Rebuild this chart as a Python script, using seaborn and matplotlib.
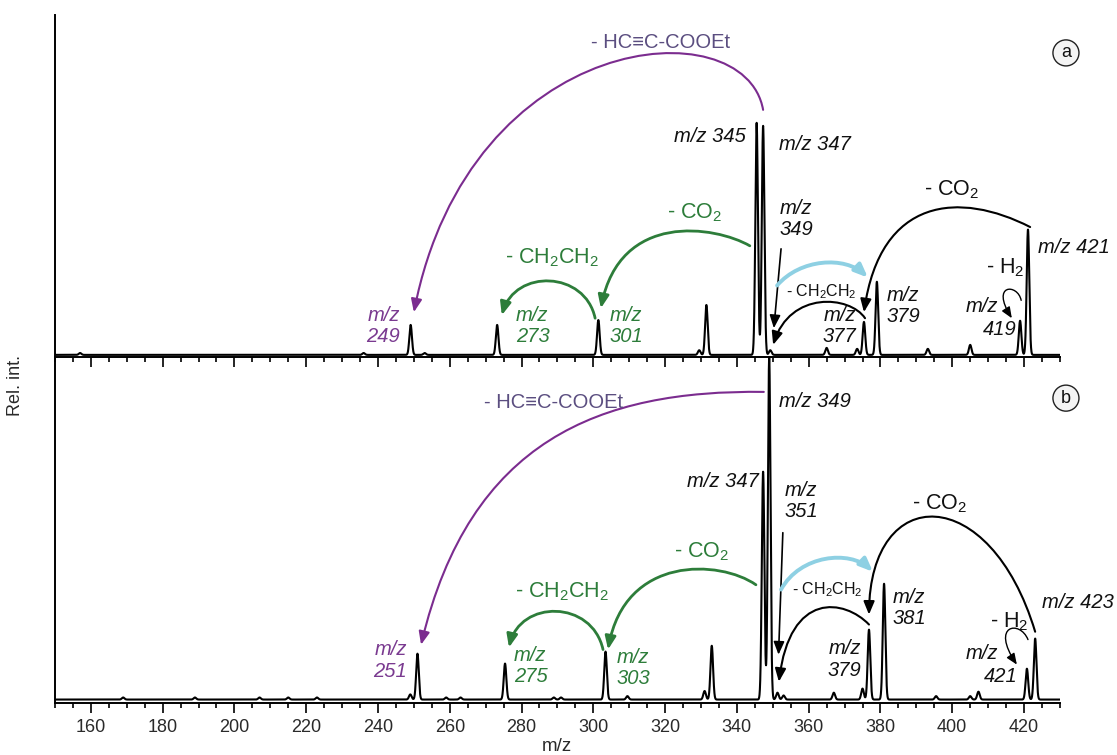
import numpy as np
import pandas as pd
import matplotlib
matplotlib.use("Agg")
import matplotlib.pyplot as plt
import seaborn as sns
from matplotlib.patches import FancyArrowPatch
from matplotlib.path import Path
from matplotlib.ticker import MultipleLocator

sns.set_theme(style="white")
plt.rcParams["font.family"] = ["Liberation Sans", "DejaVu Sans"]
plt.rcParams["mathtext.fontset"] = "custom"
plt.rcParams["mathtext.rm"] = "Liberation Sans"
plt.rcParams["mathtext.it"] = "Liberation Sans:italic"

# ---------------- data ----------------
# panel (a): peak positions (m/z) and relative intensities (base peak = 100)
mz_a = [157.0, 236.0, 249.1, 253.0, 273.2, 301.4, 329.5, 331.5, 345.5, 347.3,
        349.3, 365.0, 373.5, 375.4, 379.0, 393.2, 405.0, 418.9, 421.1]
int_a = [0.8, 0.8, 12.9, 0.8, 12.9, 15.0, 2.0, 21.5, 100.0, 98.7,
         2.0, 3.0, 2.6, 14.2, 31.5, 2.6, 4.3, 14.7, 54.0]

# panel (b)
mz_b = [169.0, 189.0, 207.0, 215.0, 223.0, 249.0, 251.0, 259.0, 263.0, 275.4,
        289.0, 291.0, 303.4, 309.5, 331.0, 333.0, 347.3, 349.0, 351.3, 353.0,
        367.0, 375.0, 376.8, 381.0, 395.5, 405.0, 407.3, 420.8, 423.1]
int_b = [0.6, 0.6, 0.6, 0.6, 0.6, 1.5, 13.4, 0.6, 0.6, 10.5,
         0.6, 0.6, 14.0, 1.0, 2.5, 15.7, 66.5, 100.0, 2.0, 1.2,
         2.0, 3.2, 20.4, 33.8, 1.0, 1.0, 2.3, 9.0, 17.8]

x_ticks = [160, 180, 200, 220, 240, 260, 280, 300, 320, 340, 360, 380, 400, 420]

# ---------------- styling ----------------
PURPLE = "#7B2C8F"
PURPLE_TXT = "#5B4E80"
PURPLE_MZ = "#7A3A90"
GREEN = "#2D7D3A"
CYAN = "#8ED0E3"
BLACK = "#111111"
SIGMA = 0.36

grid = np.arange(150.0, 430.0001, 0.02)


def profile(mzs, ints):
    y = np.zeros_like(grid)
    for m, h in zip(mzs, ints):
        y += h * np.exp(-0.5 * ((grid - m) / SIGMA) ** 2)
    return pd.DataFrame({"mz": grid, "int": y})


fig = plt.figure(figsize=(11.17, 7.55), dpi=100)
ax_a = fig.add_axes([0.0492, 0.5272, 0.8997, 0.4530])
ax_b = fig.add_axes([0.0492, 0.0689, 0.8997, 0.4583])

for ax, mzs, ints, ylim in ((ax_a, mz_a, int_a, (-0.9, 146.5)),
                            (ax_b, mz_b, int_b, (-1.0, 100.0))):
    sns.lineplot(data=profile(mzs, ints), x="mz", y="int", ax=ax,
                 color="black", lw=1.5, estimator=None, sort=False)
    ax.set_xlim(150, 430)
    ax.set_ylim(*ylim)
    ax.set_xlabel("")
    ax.set_ylabel("")
    ax.set_yticks([])
    ax.set_xticks(x_ticks)
    ax.xaxis.set_minor_locator(MultipleLocator(5))
    ax.tick_params(axis="x", which="major", direction="out", length=7,
                   width=1.2, color="black", labelsize=13,
                   labelcolor="#2a2a2a", bottom=True, pad=4.5)
    ax.tick_params(axis="x", which="minor", direction="out", length=3.6,
                   width=1.2, color="black", bottom=True)
    for s in ("top", "right"):
        ax.spines[s].set_visible(False)
    for s in ("left", "bottom"):
        ax.spines[s].set_color("black")
        ax.spines[s].set_linewidth(1.4)
    ax.patch.set_alpha(0)

ax_a.tick_params(axis="x", labelbottom=False)


def bez(ax, pts, color, lw, ms=13, hl=0.6, hw=0.25):
    path = Path(pts, [Path.MOVETO, Path.CURVE4, Path.CURVE4, Path.CURVE4])
    arr = FancyArrowPatch(path=path,
                          arrowstyle=f"-|>,head_length={hl},head_width={hw}",
                          mutation_scale=ms, color=color, lw=lw,
                          clip_on=False, zorder=5)
    ax.add_patch(arr)


def straight(ax, start, end):
    ax.annotate("", xy=end, xytext=start,
                arrowprops=dict(arrowstyle="-|>,head_length=0.6,head_width=0.25",
                                mutation_scale=13, color="black", lw=1.2,
                                shrinkA=0, shrinkB=0), annotation_clip=False)


def lab(ax, x, y, s, color=BLACK, ha="left", size=14.5, italic=True):
    ax.text(x, y, s, ha=ha, va="center", multialignment=ha if ha != "center" else "center",
            color=color, fontsize=size, style="italic" if italic else "normal",
            linespacing=1.15, clip_on=False, zorder=6)


# ---------------- panel (a) annotations ----------------
bez(ax_a, [(347.3, 105.6), (342.3, 150.0), (265.6, 141.0), (250.0, 18.4)], PURPLE, 1.5)
lab(ax_a, 318.6, 134.5, "- HC\u2261C-COOEt", PURPLE_TXT, "center", 14.5, False)
bez(ax_a, [(343.6, 47.0), (333.9, 55.6), (307.4, 62.0), (302.1, 20.1)], GREEN, 2.0)
lab(ax_a, 328.3, 61.1, "- CO$_2$", GREEN, "center", 15.5, False)
bez(ax_a, [(300.5, 15.8), (297.7, 36.3), (278.2, 37.2), (274.5, 17.1)], GREEN, 2.0)
lab(ax_a, 288.5, 41.9, "- CH$_2$CH$_2$", GREEN, "center", 15.5, False)

lab(ax_a, 246.1, 12.4, "m/z\n249", PURPLE_MZ, "right")
lab(ax_a, 278.4, 12.4, "m/z\n273", GREEN, "left")
lab(ax_a, 304.6, 12.4, "m/z\n301", GREEN, "left")
lab(ax_a, 342.5, 94.0, "m/z 345", BLACK, "right")
lab(ax_a, 351.7, 90.6, "m/z 347", BLACK, "left")
lab(ax_a, 351.8, 58.5, "m/z\n349", BLACK, "left")
straight(ax_a, (352.3, 45.7), (350.3, 11.5))

bez(ax_a, [(351.2, 29.9), (357.6, 41.5), (370.1, 42.7), (376.5, 33.3)], CYAN, 2.8)
lab(ax_a, 363.6, 27.3, "- CH$_2$CH$_2$", BLACK, "center", 11.5, False)
bez(ax_a, [(375.7, 15.8), (371.5, 25.6), (354.8, 27.8), (350.1, 4.3)], "black", 1.5)
lab(ax_a, 373.2, 12.5, "m/z\n377", BLACK, "right")
lab(ax_a, 381.8, 21.1, "m/z\n379", BLACK, "left")

bez(ax_a, [(421.7, 55.1), (402.2, 70.5), (380.0, 68.4), (375.4, 18.4)], "black", 1.5)
lab(ax_a, 399.8, 71.1, "- CO$_2$", BLACK, "center", 15.5, False)
lab(ax_a, 423.9, 46.1, "m/z 421", BLACK, "left")
lab(ax_a, 414.7, 37.5, "- H$_2$", BLACK, "center", 15.5, False)
bez(ax_a, [(419.2, 23.5), (418.3, 30.8), (410.5, 30.8), (416.6, 15.8)], "black", 1.0, ms=11)
lab(ax_a, 408.2, 20.8, "m/z", BLACK, "center")
lab(ax_a, 413.3, 10.8, "419", BLACK, "center")

ax_a.text(1.006, 0.889, "a", transform=ax_a.transAxes, ha="center", va="center",
          fontsize=13, color=BLACK,
          bbox=dict(boxstyle="circle,pad=0.25", fc="#f4f4f4", ec="#222222", lw=1.0))

# ---------------- panel (b) annotations ----------------
bez(ax_b, [(347.5, 89.8), (301.9, 90.4), (265.6, 75.8), (252.0, 16.0)], PURPLE, 1.5)
lab(ax_b, 288.8, 86.6, "- HC\u2261C-COOEt", PURPLE_TXT, "center", 14.5, False)
bez(ax_b, [(345.3, 33.5), (335.3, 40.8), (308.8, 42.3), (304.1, 14.6)], GREEN, 2.0)
lab(ax_b, 330.3, 43.1, "- CO$_2$", GREEN, "center", 15.5, False)
bez(ax_b, [(302.7, 14.6), (299.6, 29.2), (279.6, 29.2), (276.5, 15.2)], GREEN, 2.0)
lab(ax_b, 291.3, 31.5, "- CH$_2$CH$_2$", GREEN, "center", 15.5, False)

lab(ax_b, 248.1, 11.4, "m/z\n251", PURPLE_MZ, "right")
lab(ax_b, 277.9, 9.9, "m/z\n275", GREEN, "left")
lab(ax_b, 306.6, 9.3, "m/z\n303", GREEN, "left")
lab(ax_b, 346.2, 63.6, "m/z 347", BLACK, "right")
lab(ax_b, 351.7, 86.9, "m/z 349", BLACK, "left")
lab(ax_b, 353.4, 58.0, "m/z\n351", BLACK, "left")
straight(ax_b, (352.8, 48.7), (351.6, 13.1))

bez(ax_b, [(352.3, 32.1), (357.6, 42.3), (371.5, 43.7), (377.9, 37.3)], CYAN, 2.8)
lab(ax_b, 365.1, 32.1, "- CH$_2$CH$_2$", BLACK, "center", 11.5, False)
bez(ax_b, [(376.8, 21.9), (370.1, 29.2), (354.8, 32.1), (351.7, 5.2)], "black", 1.5)
lab(ax_b, 374.6, 11.7, "m/z\n379", BLACK, "right")
lab(ax_b, 383.5, 26.8, "m/z\n381", BLACK, "left")

bez(ax_b, [(423.1, 19.8), (410.5, 63.6), (377.1, 63.6), (376.8, 24.8)], "black", 1.5)
lab(ax_b, 396.6, 57.1, "- CO$_2$", BLACK, "center", 15.5, False)
lab(ax_b, 425.0, 28.3, "m/z 423", BLACK, "left")
lab(ax_b, 416.0, 22.7, "- H$_2$", BLACK, "center", 15.5, False)
bez(ax_b, [(421.1, 17.5), (418.9, 23.3), (410.5, 21.9), (418.0, 10.2)], "black", 1.0, ms=11)
lab(ax_b, 408.3, 13.5, "m/z", BLACK, "center")
lab(ax_b, 413.6, 6.7, "421", BLACK, "center")

ax_b.text(1.006, 0.881, "b", transform=ax_b.transAxes, ha="center", va="center",
          fontsize=13, color=BLACK,
          bbox=dict(boxstyle="circle,pad=0.25", fc="#f4f4f4", ec="#222222", lw=1.0))

# ---------------- axis titles ----------------
fig.text(0.014, 0.49, "Rel. int.", rotation=90, ha="center", va="center",
         fontsize=13, color="#2a2a2a")
fig.text(557 / 1117, 0.011, "m/z", ha="center", va="center",
         fontsize=13.5, color="#2a2a2a")

fig.savefig("out.png", dpi=100)
